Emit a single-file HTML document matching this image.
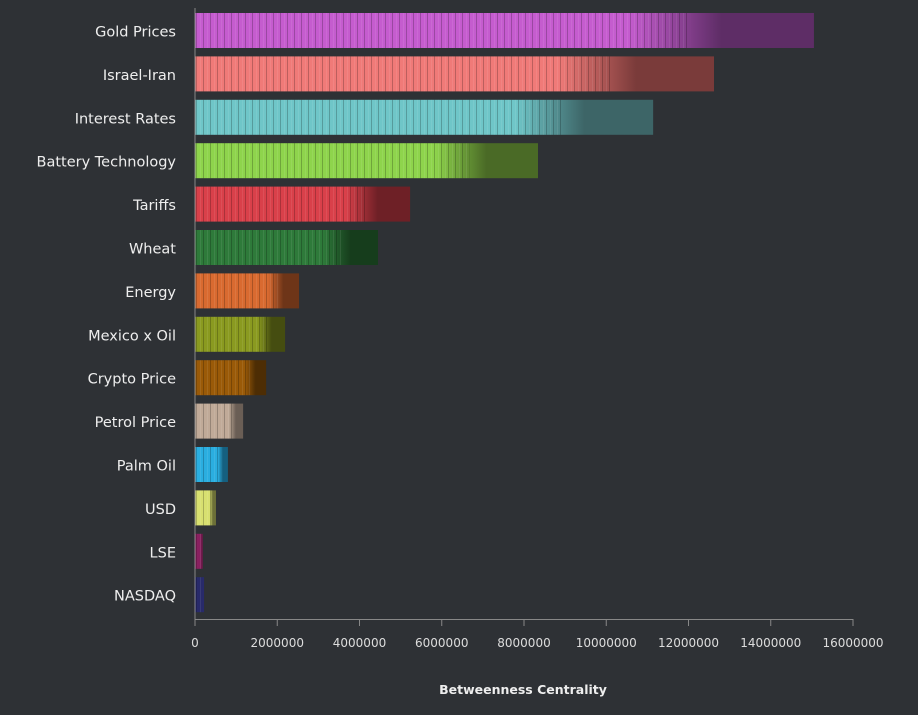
<!DOCTYPE html>
<html><head><meta charset="utf-8"><style>
html,body{margin:0;padding:0;background:#2e3135;}
svg{display:block;font-family:"DejaVu Sans","Liberation Sans",sans-serif;}
</style></head><body>
<svg id="chart" width="918" height="715">
<defs>
<pattern id="stripes" width="7" height="10" patternUnits="userSpaceOnUse">
<rect x="0" y="0" width="1" height="10" fill="rgba(0,0,0,0.22)"/>
<rect x="4" y="0" width="1" height="10" fill="rgba(255,255,255,0.08)"/>
</pattern>
</defs>
</svg>
<script>
const categories=["Gold Prices","Israel-Iran","Interest Rates","Battery Technology","Tariffs","Wheat","Energy","Mexico x Oil","Crypto Price","Petrol Price","Palm Oil","USD","LSE","NASDAQ"];
const values=[15050000,12620000,11140000,8340000,5230000,4450000,2530000,2190000,1730000,1170000,800000,510000,190000,220000];
const tickValues=[0,2000000,4000000,6000000,8000000,10000000,12000000,14000000,16000000];
const lightColors=["#c55ccf","#f07a78","#6fc6c8","#8ed44c","#d9404a","#2e7a3a","#d96a30","#8a9a20","#9a5a08","#c0aa98","#2aaee0","#d8e070","#8a2060","#282a6a"];
const darkColors=["#5e2d66","#7a3b3a","#3d6567","#4a6a26","#6e2026","#163d1c","#6e3518","#454d10","#4d2d04","#6a5e55","#156080","#6c7038","#6a1848","#282a6a"];
const NS="http://www.w3.org/2000/svg";
const svg=document.getElementById('chart');
const defs=svg.querySelector('defs');
const x0=195,x1=853,xMax=16000000;
const xs=v=>x0+(v/xMax)*(x1-x0);
const rowTop=13,step=43.4,barH=35;
const ys=i=>rowTop+i*step;
function mk(t,a){const e=document.createElementNS(NS,t);for(const k in a)e.setAttribute(k,a[k]);return e;}
categories.forEach((c,i)=>{
  const g=mk('linearGradient',{id:'g'+i,x1:'0',x2:'1',y1:'0',y2:'0'});
  g.appendChild(mk('stop',{offset:'0','stop-color':lightColors[i]}));
  g.appendChild(mk('stop',{offset:'0.7','stop-color':lightColors[i]}));
  g.appendChild(mk('stop',{offset:'0.85','stop-color':darkColors[i]}));
  g.appendChild(mk('stop',{offset:'1','stop-color':darkColors[i]}));
  defs.appendChild(g);
  const w=xs(values[i])-x0;
  const bar=mk('rect',{x:x0,y:ys(i),width:w,height:barH,fill:'url(#g'+i+')'});
  
  
  svg.appendChild(bar);
  const st=mk('rect',{x:x0,y:ys(i),width:w*0.8,height:barH,fill:'url(#stripes)'});
  
  
  svg.appendChild(st);
  const lb=mk('text',{x:176,y:ys(i)+barH/2+6,'text-anchor':'end','font-size':'14.5',fill:'#eeeeee'});
  lb.textContent=c;
  
  
  svg.appendChild(lb);
});
const yAxis=mk('line',{x1:x0,x2:x0,y1:8,y2:620,stroke:'#888',"stroke-width":1});


svg.appendChild(yAxis);
const xAxis=mk('line',{x1:x0,x2:x1,y1:619.5,y2:619.5,stroke:'#888',"stroke-width":1});


svg.appendChild(xAxis);
tickValues.forEach(t=>{
  const tk=mk('line',{x1:xs(t),x2:xs(t),y1:619,y2:626,stroke:'#888'});
  
  
  svg.appendChild(tk);
  const tl=mk('text',{x:xs(t),y:647,'text-anchor':'middle','font-size':'12',fill:'#dddddd'});
  tl.textContent=String(t);
  
  
  svg.appendChild(tl);
});
const title=mk('text',{x:523,y:694,'text-anchor':'middle','font-size':'12.5','font-weight':'bold',fill:'#eeeeee'});
title.textContent='Betweenness Centrality';


svg.appendChild(title);
</script>
</body></html>
